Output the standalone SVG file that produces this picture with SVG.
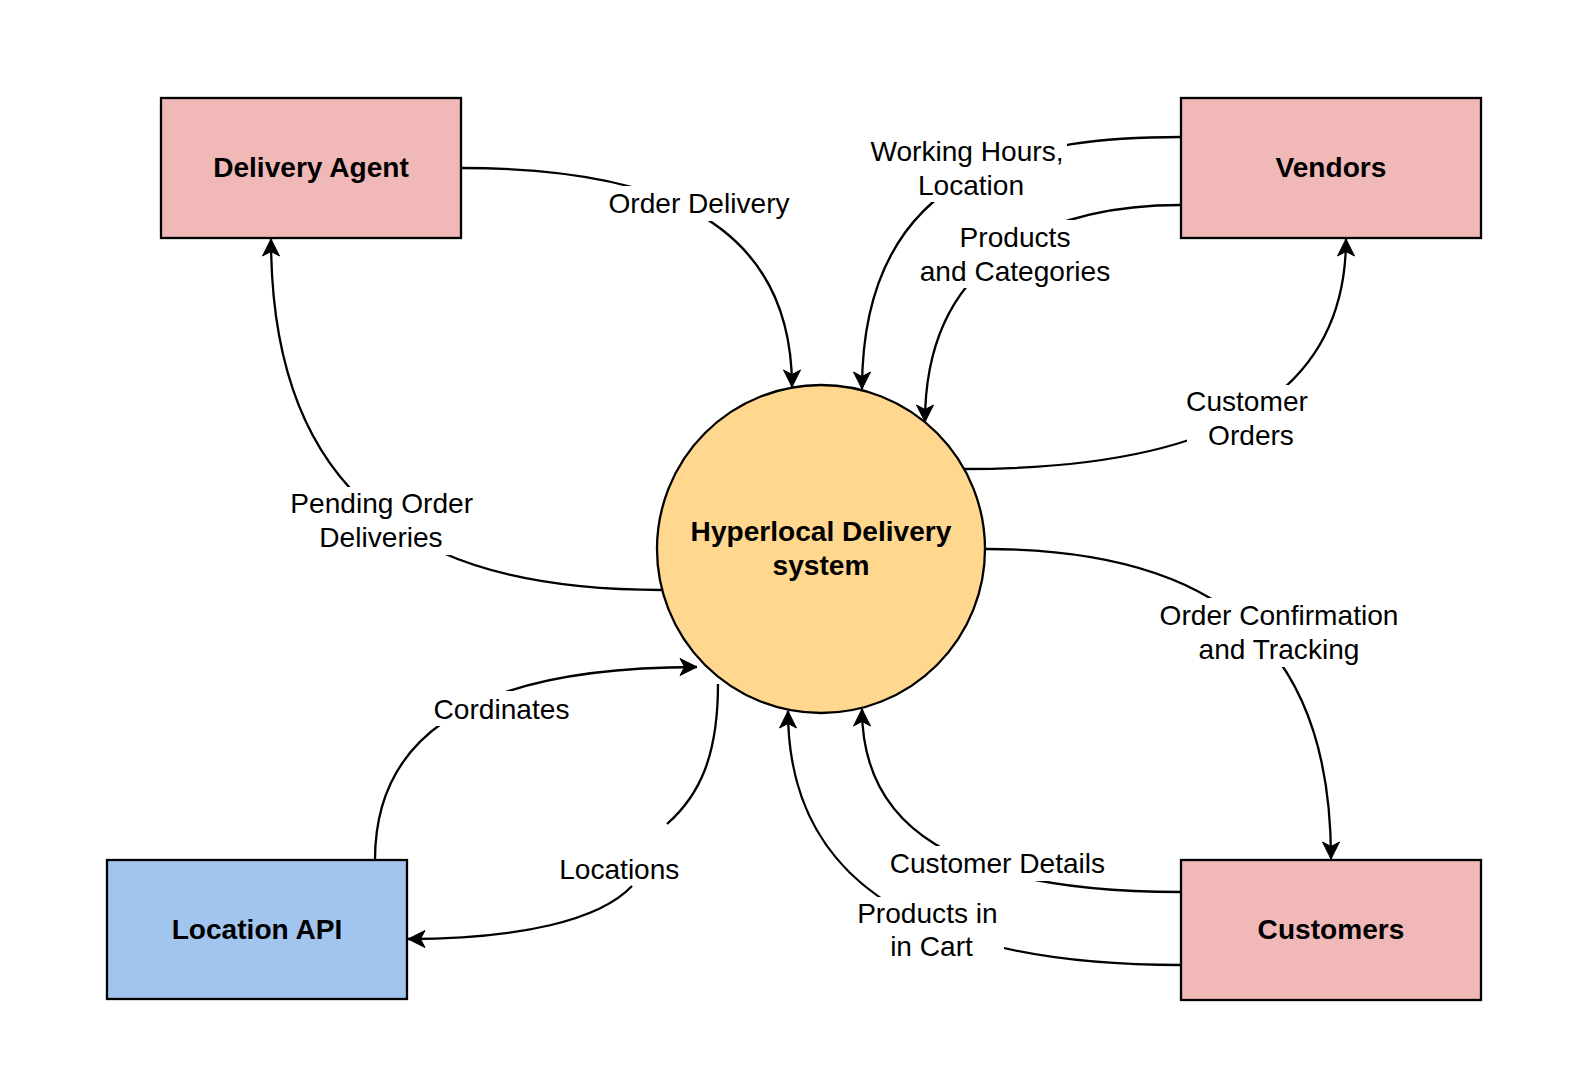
<svg xmlns="http://www.w3.org/2000/svg" width="1579" height="1086" viewBox="0 0 1579 1086">
<style>
.box{stroke:#000;stroke-width:2.3}
.pink{fill:#F0B9B8}
.blue{fill:#A1C5EE}
.yellow{fill:#FFD78F}
.node{font-family:"Liberation Sans",Arial,sans-serif;font-size:28.1px;font-weight:bold;fill:#000;text-anchor:middle}
.lbl{font-family:"Liberation Sans",Arial,sans-serif;font-size:28.1px;fill:#000;text-anchor:middle}
.edge{fill:none;stroke:#000;stroke-width:2.3}
.bg{fill:#fff}
</style>
<defs>
<marker id="arrow" markerUnits="userSpaceOnUse" markerWidth="22" markerHeight="22" viewBox="-19 -11 22 22" refX="0" refY="0" orient="auto">
<path d="M0,0 L-17,-8.5 L-12.5,0 L-17,8.5 Z" fill="#000" stroke="#000" stroke-width="1"/>
</marker>
</defs>
<rect width="1579" height="1086" fill="#fff"/>
<g id="connectors">
<path class="edge" marker-end="url(#arrow)" d="M461,168 C620,168 792,200 792,387"/>
<path class="edge" marker-end="url(#arrow)" d="M1181,137 C1040,137 862,160 862,389"/>
<path class="edge" marker-end="url(#arrow)" d="M1181,205 C1060,205 925,250 925,422"/>
<path class="edge" marker-end="url(#arrow)" d="M964,469 C1210,469 1346,400 1346,239"/>
<path class="edge" marker-end="url(#arrow)" d="M662,590 C445,590 271,520 271,239"/>
<path class="edge" marker-end="url(#arrow)" d="M985,549 C1240,549 1331,665 1331,859"/>
<path class="edge" marker-end="url(#arrow)" d="M375,860 C375,750 450,667 697,667"/>
<path class="edge" d="M718,684 C718,755 700,795 667,824"/>
<path class="edge" marker-end="url(#arrow)" d="M632,886 C600,920 520,939 408,939"/>
<path class="edge" marker-end="url(#arrow)" d="M1181,965 C950,965 788,900 788,711"/>
<path class="edge" marker-end="url(#arrow)" d="M1181,892 C950,892 862,825 862,709"/>
</g>
<g id="labels">
<g id="lbl-order-delivery"><rect class="bg" x="607" y="186" width="183" height="35"/><text class="lbl" x="699" y="213">Order Delivery</text></g>
<g id="lbl-working-hours"><rect class="bg" x="871" y="134" width="196" height="68"/><text class="lbl"><tspan x="967" y="161">Working Hours,</tspan><tspan x="971" y="195">Location</tspan></text></g>
<g id="lbl-products-categories"><rect class="bg" x="918" y="220" width="194" height="68"/><text class="lbl"><tspan x="1015" y="246.5">Products</tspan><tspan x="1015" y="280.5">and Categories</tspan></text></g>
<g id="lbl-customer-orders"><rect class="bg" x="1187" y="385" width="126" height="67"/><text class="lbl"><tspan x="1247" y="410.5">Customer</tspan><tspan x="1251" y="444.7">Orders</tspan></text></g>
<g id="lbl-pending"><rect class="bg" x="288" y="487" width="187" height="68"/><text class="lbl"><tspan x="381.7" y="513">Pending Order</tspan><tspan x="381" y="547.4">Deliveries</tspan></text></g>
<g id="lbl-order-confirmation"><rect class="bg" x="1158" y="598" width="242" height="69"/><text class="lbl"><tspan x="1279" y="625">Order Confirmation</tspan><tspan x="1279" y="659">and Tracking</tspan></text></g>
<g id="lbl-cordinates"><rect class="bg" x="431" y="691" width="141" height="35"/><text class="lbl" x="501.5" y="718.7">Cordinates</text></g>
<g id="lbl-locations"><text class="lbl" x="619.3" y="878.7">Locations</text></g>
<g id="lbl-customer-details"><rect class="bg" x="889" y="846" width="217" height="35"/><text class="lbl" x="997.4" y="872.7">Customer Details</text></g>
<g id="lbl-products-cart"><rect class="bg" x="855" y="897" width="149" height="67"/><text class="lbl"><tspan x="927.4" y="923">Products in</tspan><tspan x="931.5" y="956.3">in Cart</tspan></text></g>
</g>
<g id="node-delivery-agent"><rect class="box pink" x="161" y="98" width="300" height="140"/><text class="node" x="311" y="177">Delivery Agent</text></g>
<g id="node-vendors"><rect class="box pink" x="1181" y="98" width="300" height="140"/><text class="node" x="1331" y="177">Vendors</text></g>
<g id="node-location-api"><rect class="box blue" x="107" y="860" width="300" height="139"/><text class="node" x="257" y="938.5">Location API</text></g>
<g id="node-customers"><rect class="box pink" x="1181" y="860" width="300" height="140"/><text class="node" x="1331" y="939">Customers</text></g>
<g id="node-system"><circle class="box yellow" cx="821" cy="549" r="164"/><text class="node"><tspan x="821" y="540.7">Hyperlocal Delivery</tspan><tspan x="821" y="575">system</tspan></text></g>
</svg>
